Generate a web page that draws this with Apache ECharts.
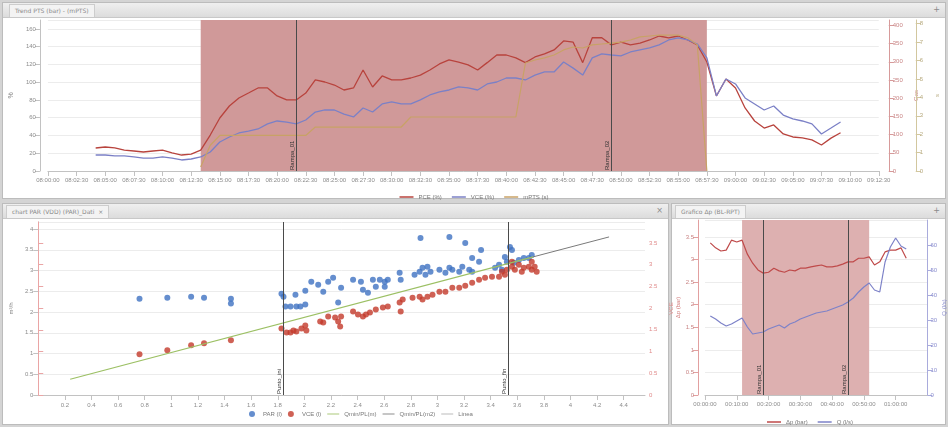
<!DOCTYPE html>
<html><head><meta charset="utf-8">
<script src="https://cdn.jsdelivr.net/npm/echarts@6/dist/echarts.min.js"></script>
<style>
html,body{margin:0;padding:0;width:948px;height:427px;overflow:hidden;background:#d4d4d4;font-family:"DejaVu Sans",sans-serif;}
.panel{position:absolute;background:#fff;border:1px solid #bcbcbc;box-sizing:border-box;}
.hdr{position:absolute;left:0;right:0;top:0;height:14px;background:linear-gradient(#efefef,#dcdcdc);border-bottom:1px solid #c8c8c8;}
.tab{position:absolute;top:1px;height:12px;font-size:6px;line-height:12px;color:#8a8a8a;padding:0 5px;background:#f3f3f3;border:1px solid #cdcdcd;border-bottom:none;white-space:nowrap;}
.btn{position:absolute;right:5px;top:1px;font-size:8px;line-height:12px;color:#8a8a8a;}
#chart{position:absolute;left:0;top:0;width:948px;height:427px;}
</style></head>
<body>
<div class="panel" style="left:2px;top:2px;width:944px;height:197px;"><div class="hdr"><div class="tab" style="left:6px;">Trend PTS (bar) - (mPTS)</div><div class="btn">+</div></div></div>
<div class="panel" style="left:2px;top:203px;width:667px;height:222px;"><div class="hdr"><div class="tab" style="left:3px;">chart PAR (VDD) (PAR)_Dati &nbsp;×</div><div class="btn">×</div></div></div>
<div class="panel" style="left:671px;top:203px;width:275px;height:222px;"><div class="hdr"><div class="tab" style="left:3px;">Grafico Δp (BL-RPT)</div><div class="btn">+</div></div></div>
<div id="chart"></div>
<script>
// ---------- helpers for time category labels ----------
function makeTimes(start, step, n){
  var out=[];
  for(var i=0;i<n;i++){
    var s=start+i*step, h=Math.floor(s/3600), m=Math.floor((s%3600)/60), c=s%60;
    out.push((h<10?'0':'')+h+':'+(m<10?'0':'')+m+':'+(c<10?'0':'')+c);
  }
  return out;
}
// ---------- TOP PANEL DATA ----------
var topTimes = makeTimes(8*3600, 50, 88);
var _ = null;
var topPCE = [_,_,_,_,_,25.9,27,26,23.6,22.5,21.4,22.5,23.6,20.3,18,19,23.6,40.5,59.7,73.2,82.2,87.8,93.5,93.5,84.5,80,80,87.8,102.5,100.2,96.8,91.2,93.5,113.7,94.6,107,102.5,102.5,104.7,108,113.7,120.5,125,122.7,119.4,113.7,122,130.6,130.6,127.3,122,128.4,131.8,136.3,146.4,145,122,150,150,142,145,142,144,147.5,152,150,152,147.5,142,122.7,84.5,103.6,93.5,71,56.3,48.4,51.8,41.7,38.3,37.2,35,29.3,37,43,_,_,_,_];
var topVCE = [_,_,_,_,_,18,18,17,17,15.8,14.6,14.6,15.8,14.6,12.4,13.5,15.8,21.4,32.7,38.3,42.8,45,47.3,53,56.3,55,53,57.4,66.4,68.7,68.7,64,60.8,70.9,66.4,75.5,77.7,75.5,75.5,80,85.6,89,91.2,94.6,93.5,91.2,98,100.2,104.7,104.7,102.5,108,111.5,111.5,122.7,115.8,108,127.3,131.8,130.6,129.5,134,136.3,138.5,142,147.5,150,147.5,143,127.3,84.5,103.6,98,82.2,75.5,68.7,73.2,63,58.6,56.3,53,41.7,48.4,55.2,_,_,_,_];
var topMPTS = [_,_,_,_,_,_,_,_,_,_,_,_,_,_,_,_,4.5,29,40,40,40,40,40,40,40,40,40,40,49.5,49.5,49.5,49.5,49.5,49.5,49.5,49.5,49.5,49.5,60.8,60.8,60.8,60.8,60.8,60.8,60.8,60.8,60.8,60.8,60.8,60.8,121.6,125,127.3,130.6,136.3,139.6,138.5,142,143,144,145,147.5,151,152,153,153,153,150,142,0,_,_,_,_,_,_,_,_,_,_,_,_,_,_,_,_,_,_];
var topShade = [16, 69];      // category indices of shaded phase
var topMarks = [26, 59];
var topMarkNames = ['Rampa_01', 'Rampa_02'];

// ---------- BOTTOM-LEFT (scatter) DATA ----------
var parPts = [[0.761,2.323],[0.970,2.347],[1.149,2.371],[1.246,2.347],[1.448,2.323],[1.448,2.204],[1.828,2.443],[1.843,2.371],[1.858,2.132],[1.896,2.132],[1.933,2.419],[1.940,2.132],[1.970,2.132],[2.007,2.515],[2.007,2.180],[2.052,2.731],[2.104,2.659],[2.142,2.491],[2.179,2.731],[2.216,2.826],[2.254,2.228],[2.276,2.587],[2.366,2.778],[2.425,2.731],[2.440,2.539],[2.478,2.467],[2.515,2.778],[2.537,2.611],[2.567,2.778],[2.604,2.731],[2.627,2.778],[2.604,2.611],[2.716,2.946],[2.724,2.778],[2.828,2.898],[2.866,2.970],[2.888,3.066],[2.925,3.090],[2.910,2.898],[2.948,2.970],[3.015,3.018],[3.060,2.946],[3.090,3.066],[3.112,3.018],[3.164,2.970],[3.187,3.090],[3.239,3.018],[3.261,2.970],[3.261,3.305],[3.313,3.210],[3.328,3.497],[3.433,3.066],[3.463,3.138],[3.485,3.018],[3.522,3.210],[3.575,3.186],[3.612,3.257],[3.687,3.305],[3.709,3.377],[3.649,3.305],[3.507,3.329],[3.545,3.569],[3.560,3.497],[2.873,3.784],[3.090,3.808],[3.209,3.665]];
var vcePts = [[0.761,0.982],[0.970,1.078],[1.149,1.198],[1.246,1.246],[1.448,1.317],[1.828,1.605],[1.866,1.509],[1.896,1.509],[1.918,1.557],[1.940,1.533],[1.978,1.605],[2.007,1.677],[2.015,1.557],[2.119,1.772],[2.142,1.749],[2.179,1.892],[2.254,1.772],[2.276,1.892],[2.231,1.868],[2.269,1.653],[2.366,2.012],[2.403,1.940],[2.440,1.892],[2.463,1.940],[2.493,1.988],[2.537,2.060],[2.590,2.108],[2.627,2.132],[2.716,2.228],[2.724,2.012],[2.739,2.299],[2.813,2.347],[2.866,2.371],[2.888,2.299],[2.925,2.371],[2.963,2.419],[3.015,2.491],[3.060,2.491],[3.112,2.587],[3.164,2.587],[3.209,2.635],[3.261,2.707],[3.313,2.778],[3.358,2.826],[3.410,2.850],[3.463,2.850],[3.485,2.970],[3.507,2.898],[3.560,3.090],[3.582,3.018],[3.612,3.138],[3.649,3.066],[3.687,3.090],[3.709,3.018],[3.731,3.090],[3.560,3.210],[3.709,3.210],[3.522,3.018],[3.634,2.970],[3.746,2.970]];
var fitLine = [[0.24,0.38],[3.72,3.33]];
var fitLineExt = [[3.72,3.33],[4.29,3.81]];
var blMarks = [1.843, 3.53];
var blMarkNames = ['Punto_ini', 'Punto_fin'];

// ---------- BOTTOM-RIGHT DATA ----------
var brTimes = makeTimes(0, 100, 43);
var brDp = [_,3.37,3.26,3.19,3.21,3.43,3.39,3.43,3.12,2.92,2.77,2.70,2.72,2.81,2.75,2.72,2.77,2.75,2.81,2.81,2.84,2.86,2.88,2.84,2.84,2.86,2.90,2.95,2.95,3.03,3.03,3.06,2.88,2.95,3.17,3.21,3.21,3.26,3.03,_,_,_,_];
var brQ  = [_,31.6,30.4,28.8,27.6,28.4,29.6,30.8,27.2,24.4,24.8,25.2,26.4,27.2,28,26.8,28.4,29.2,30.4,31.2,32,32.8,33.2,33.6,34.4,35.2,36,37.2,38.8,41.2,43.2,44.8,42,41.2,53.2,59.2,62.8,59.6,58.4,_,_,_,_];
var brShade = [7, 31];
var brMarks = [11, 27];
var brMarkNames = ['Rampa_01', 'Rampa_02'];

// ---------- CHART ----------
var lbl = {fontSize:6, color:'#8c8c8c'};
var grayLine = {lineStyle:{color:'#c2c2c2'}};
var split = {show:true, lineStyle:{color:'#ececec'}};
function mlData(vals, names, isCat, cats){
  return vals.map(function(v,k){
    return {xAxis: isCat ? cats[v] : v, label:{formatter:names[k]}};
  });
}
var mlCommon = {
  symbol:['none','none'], silent:true,
  lineStyle:{color:'#4a4a4a', width:1, type:'solid'},
  label:{show:true, position:'insideStartTop', fontSize:6, color:'#333', distance:1}
};
var lineIcon = {icon:'rect', itemStyle:{}};
function lineItem(n){ return {name:n, icon:'rect'}; }
function dotItem(n){ return {name:n, icon:'circle'}; }

var chart = echarts.init(document.getElementById('chart'));
chart.setOption({
  animation:false,
  backgroundColor:'transparent',
  grid:[
    {left:43, right:55, top:20, bottom:256},
    {left:33, right:303, top:222, bottom:32},
    {left:705, right:11, top:220, bottom:32}
  ],
  legend:[
    {left:'center', top:189, itemWidth:14, itemHeight:1.5, itemGap:10, textStyle:{fontSize:6,color:'#777'},
     data:[lineItem('PCE (%)'), lineItem('VCE (%)'), lineItem('mPTS (s)')]},
    {left:244, top:406, itemWidth:12, itemHeight:6, itemGap:6, textStyle:{fontSize:6,color:'#777'},
     data:[dotItem('PAR (l)'), dotItem('VCE (l)'), {name:'Qmin/PL(m)', icon:'path://M0,9L28,9L28,11L0,11Z'}, {name:'Qmin/PL(m2)', icon:'path://M0,9L28,9L28,11L0,11Z'}, {name:'Linea', icon:'path://M0,9L28,9L28,11L0,11Z'}]},
    {left:762, top:414, itemWidth:14, itemHeight:1.5, itemGap:10, textStyle:{fontSize:6,color:'#777'},
     data:[lineItem('Δp (bar)'), lineItem('Q (l/s)')]}
  ],
  xAxis:[
    {gridIndex:0, type:'category', boundaryGap:false, data:topTimes,
     axisLabel:Object.assign({interval:2, margin:6}, lbl),
     axisTick:{interval:2, lineStyle:{color:'#c2c2c2'}}, axisLine:grayLine, splitLine:{show:false}},
    {gridIndex:1, type:'value', min:0, max:4.56, interval:0.2,
     axisLabel:Object.assign({showMinLabel:false, showMaxLabel:false, margin:7}, lbl),
     axisTick:{lineStyle:{color:'#c2c2c2'}}, axisLine:Object.assign({onZero:false}, grayLine), splitLine:{show:false}},
    {gridIndex:2, type:'category', boundaryGap:false, data:brTimes,
     axisLabel:Object.assign({interval:function(i){return i%6===0 && i<=36;}, margin:6}, lbl),
     axisTick:{interval:function(i){return i%6===0 && i<=36;}, lineStyle:{color:'#c2c2c2'}}, axisLine:grayLine, splitLine:{show:false}}
  ],
  yAxis:[
    {gridIndex:0, type:'value', min:0, max:170, interval:20, offset:8, name:'%', nameLocation:'middle', nameGap:22, nameTextStyle:{fontSize:7,color:'#888'},
     axisLabel:Object.assign({showMaxLabel:false, margin:4}, lbl), axisLine:{show:true, lineStyle:{color:'#c2c2c2'}}, axisTick:{show:true, lineStyle:{color:'#c2c2c2'}}, splitLine:split},
    {gridIndex:0, type:'value', position:'right', min:0, max:415, interval:50, offset:10, name:'Gas', nameLocation:'middle', nameGap:18, nameTextStyle:{fontSize:6,color:'#c98585'},
     axisLabel:{fontSize:6, color:'#c98585', showMaxLabel:false, margin:4}, axisLine:{show:true, lineStyle:{color:'#d79a9a'}}, axisTick:{show:true, lineStyle:{color:'#d79a9a'}}, splitLine:{show:false}},
    {gridIndex:0, type:'value', position:'right', min:0, max:8.2, interval:1, offset:37, name:'s', nameLocation:'middle', nameGap:15, nameTextStyle:{fontSize:6,color:'#b8ab80'},
     axisLabel:{fontSize:6, color:'#b8ab80', showMaxLabel:false, margin:4}, axisLine:{show:true, lineStyle:{color:'#d2c79f'}}, axisTick:{show:true, lineStyle:{color:'#d2c79f'}}, splitLine:{show:false}},
    {gridIndex:1, type:'value', min:0, max:4.17, interval:0.5, name:'m³/h', nameLocation:'middle', nameGap:20, nameTextStyle:{fontSize:6,color:'#888'},
     axisLabel:Object.assign({showMaxLabel:false, margin:5}, lbl), axisLine:{show:true, onZero:false, lineStyle:{color:'#c2c2c2'}}, axisTick:{show:true, lineStyle:{color:'#c2c2c2'}}, splitLine:split},
    {gridIndex:1, type:'value', position:'right', min:0, max:3.98, interval:0.5, name:'VCE', nameLocation:'middle', nameGap:15, nameTextStyle:{fontSize:6,color:'#e08a8a'},
     axisLabel:{fontSize:6, color:'#e08a8a', showMaxLabel:false, margin:4}, axisLine:{show:true, lineStyle:{color:'#eaa5a5'}}, axisTick:{show:true, lineStyle:{color:'#eaa5a5'}}, splitLine:{show:false}},
    {gridIndex:2, type:'value', min:0, max:3.877, interval:0.5, offset:7, name:'Δp (bar)', nameLocation:'middle', nameGap:17, nameTextStyle:{fontSize:6,color:'#d07a7a'},
     axisLabel:{fontSize:6, color:'#c98585', showMaxLabel:false, margin:4}, axisLine:{show:true, lineStyle:{color:'#e2a0a0'}}, axisTick:{show:true, lineStyle:{color:'#e2a0a0'}}, splitLine:split},
    {gridIndex:2, type:'value', position:'right', min:0, max:70, interval:10, name:'Q (l/s)', nameLocation:'middle', nameGap:11, nameTextStyle:{fontSize:6,color:'#8c8fcf'},
     axisLabel:{fontSize:6, color:'#8c8fcf', showMaxLabel:false, margin:3}, axisLine:{show:true, lineStyle:{color:'#a9abdc'}}, axisTick:{show:true, lineStyle:{color:'#a9abdc'}}, splitLine:{show:false}}
  ],
  series:[
    {name:'PCE (%)', type:'line', xAxisIndex:0, yAxisIndex:0, data:topPCE, symbol:'none', color:'#b8433d', lineStyle:{width:1.3},
     markArea:{silent:true, itemStyle:{color:'#d09999'}, data:[[{xAxis:topTimes[topShade[0]]},{xAxis:topTimes[topShade[1]]}]]},
     markLine:Object.assign({data:mlData(topMarks, topMarkNames, true, topTimes)}, mlCommon)},
    {name:'VCE (%)', type:'line', xAxisIndex:0, yAxisIndex:0, data:topVCE, symbol:'none', color:'#7b80c6', lineStyle:{width:1.3}},
    {name:'mPTS (s)', type:'line', xAxisIndex:0, yAxisIndex:0, data:topMPTS, symbol:'none', color:'#c8a266', lineStyle:{width:1.2}},

    {name:'PAR (l)', type:'scatter', xAxisIndex:1, yAxisIndex:3, data:parPts, symbolSize:6, color:'#3f72c2',
     markLine:Object.assign({data:mlData(blMarks, blMarkNames, false)}, mlCommon)},
    {name:'VCE (l)', type:'scatter', xAxisIndex:1, yAxisIndex:3, data:vcePts, symbolSize:6, color:'#c33a2a'},
    {name:'Qmin/PL(m)', type:'line', xAxisIndex:1, yAxisIndex:3, data:fitLine, symbol:'none', color:'#9cc064', lineStyle:{width:1.2}},
    {name:'Qmin/PL(m2)', type:'line', xAxisIndex:1, yAxisIndex:3, data:fitLineExt, symbol:'none', color:'#7a7a7a', lineStyle:{width:1}},
    {name:'Linea', type:'line', xAxisIndex:1, yAxisIndex:3, data:[], symbol:'none', color:'#b0b0b0'},

    {name:'Δp (bar)', type:'line', xAxisIndex:2, yAxisIndex:5, data:brDp, symbol:'none', color:'#bf4a4a', lineStyle:{width:1.2},
     markArea:{silent:true, itemStyle:{color:'#ddb0b0'}, data:[[{xAxis:brTimes[brShade[0]]},{xAxis:brTimes[brShade[1]]}]]},
     markLine:Object.assign({data:mlData(brMarks, brMarkNames, true, brTimes)}, mlCommon)},
    {name:'Q (l/s)', type:'line', xAxisIndex:2, yAxisIndex:6, data:brQ, symbol:'none', color:'#7d82c8', lineStyle:{width:1.2}}
  ]
});
</script>
</body></html>
